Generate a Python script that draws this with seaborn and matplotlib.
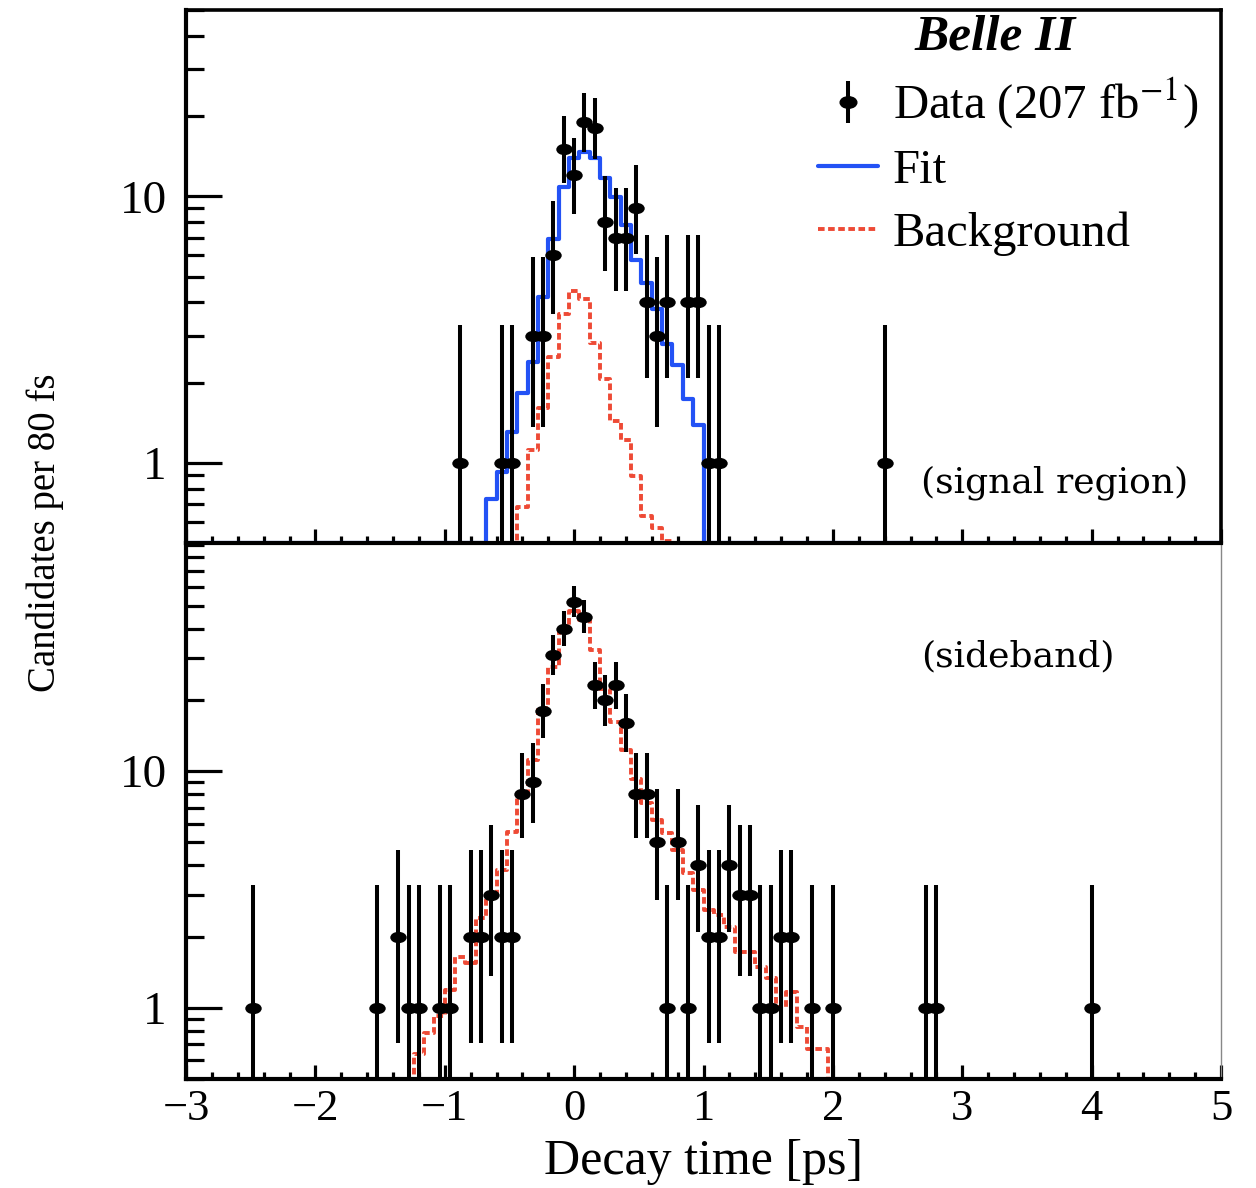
import math
import numpy as np
import matplotlib
matplotlib.use("Agg")
import matplotlib.pyplot as plt
import seaborn as sns
from matplotlib import ticker
from matplotlib.path import Path
from matplotlib.transforms import Affine2D
from matplotlib.lines import Line2D

##
# Data (decay time bin centres in ps, counts per 80 fs bin)
##
BIN = 0.08
edges = np.linspace(-3.0, 5.0, 101)
centers = edges[:-1] + BIN / 2

# signal region
sig_t = [-0.88, -0.56, -0.48, -0.32, -0.24, -0.16, -0.08, 0.00, 0.08, 0.16, 0.24,
         0.32, 0.40, 0.48, 0.56, 0.64, 0.72, 0.88, 0.96, 1.04, 1.12, 2.40]
sig_n = [1, 1, 1, 3, 3, 6, 15, 12, 19, 18, 8, 7, 7, 9, 4, 3, 4, 4, 4, 1, 1, 1]

sig_fit_start = -0.64
sig_fit = [0.73, 0.92, 1.31, 1.82, 2.39, 4.19, 6.92, 10.8, 13.9, 14.7, 13.9, 11.7,
           9.9, 7.83, 5.79, 4.72, 3.77, 2.80, 2.33, 1.74, 1.39]

sig_bkg_start = -0.40
sig_bkg = [0.68, 1.12, 1.60, 2.50, 3.63, 4.43, 4.13, 2.82, 2.06, 1.43, 1.22, 0.89,
           0.63, 0.57, 0.51]

# sideband
sb_t = [-2.48, -1.52, -1.36, -1.28, -1.20, -1.04, -0.96, -0.80, -0.72, -0.64, -0.56,
        -0.48, -0.40, -0.32, -0.24, -0.16, -0.08, 0.00, 0.08, 0.16, 0.24, 0.32, 0.40,
        0.48, 0.56, 0.64, 0.72, 0.80, 0.88, 0.96, 1.04, 1.12, 1.20, 1.28, 1.36, 1.44,
        1.52, 1.60, 1.68, 1.84, 2.00, 2.72, 2.80, 4.00]
sb_n = [1, 1, 2, 1, 1, 1, 1, 2, 2, 3, 2, 2, 8, 9, 18, 31, 40, 52, 45, 23, 20, 23, 16,
        8, 8, 5, 1, 5, 1, 4, 2, 2, 4, 3, 3, 1, 1, 2, 2, 1, 1, 1, 1, 1]

sb_bkg_start = -1.20
sb_bkg = [0.64, 0.78, 0.92, 1.19, 1.64, 1.55, 2.39, 2.94, 3.81, 5.54, 7.92, 11.1,
          18.4, 27.6, 39.5, 47.7, 43.6, 32.4, 22.3, 16.2, 12.3, 9.3, 7.3, 6.2, 5.45,
          4.63, 3.70, 3.14, 2.59, 2.46, 2.20, 1.72, 1.72, 1.49, 1.33, 1.01, 1.17, 0.83,
          0.67, 0.67]

YMIN = 0.5
BLUE = "#2352f5"
RED = "#ee4a35"
DASH = (0, (1.7, 0.9))


def fill_bins(start, vals):
    full = np.full(len(centers), YMIN)
    i0 = int(round((start - centers[0]) / BIN))
    full[i0:i0 + len(vals)] = vals
    return full


def step_hist(ax, start, vals, **kw):
    h = fill_bins(start, vals)
    sns.lineplot(x=edges, y=np.append(h, h[-1]), drawstyle="steps-post",
                 estimator=None, sort=False, ax=ax, **kw)


def pois_cdf(k, mu):
    return sum(math.exp(-mu + i * math.log(mu) - math.lgamma(i + 1)) for i in range(k + 1))


def garwood(n, a=0.158655):
    # upper edge
    lo, hi = float(n), n + 10 * math.sqrt(n + 1) + 10
    for _ in range(80):
        mid = (lo + hi) / 2
        if pois_cdf(n, mid) > a:
            lo = mid
        else:
            hi = mid
    up = (lo + hi) / 2
    if n == 0:
        return 0.0, up
    lo, hi = 1e-9, float(n)
    for _ in range(80):
        mid = (lo + hi) / 2
        if pois_cdf(n - 1, mid) > 1 - a:
            lo = mid
        else:
            hi = mid
    return (lo + hi) / 2, up


def draw_data(ax, t, n):
    n = np.array(n, dtype=float)
    lims = np.array([garwood(int(k)) for k in n])
    yerr = [n - lims[:, 0], lims[:, 1] - n]
    ax.errorbar(t, n, yerr=yerr, fmt="none", ecolor="black", elinewidth=2.9,
                capsize=0, zorder=4)
    sns.scatterplot(x=t, y=n, marker=ell, s=140, color="black", linewidth=0,
                    zorder=5, ax=ax)


ell = Path.unit_circle().transformed(Affine2D().scale(1.45, 1.0))

sns.set_style("ticks")
plt.rcParams["font.family"] = ["Liberation Serif", "DejaVu Serif"]
plt.rcParams["mathtext.fontset"] = "stix"
for key in ["text.color", "axes.labelcolor", "xtick.color", "ytick.color"]:
    plt.rcParams[key] = "black"

fig = plt.figure(figsize=(12.56, 11.88), dpi=100)
W, H = 1256, 1188
ax_top = fig.add_axes([186 / W, 1 - 543 / H, 1035 / W, 533 / H])
ax_bot = fig.add_axes([186 / W, 1 - 1079 / H, 1035 / W, 536 / H])

# signal region panel
step_hist(ax_top, sig_bkg_start, sig_bkg, color=RED, linewidth=2.8, linestyle=DASH)
step_hist(ax_top, sig_fit_start, sig_fit, color=BLUE, linewidth=3.0)
draw_data(ax_top, sig_t, sig_n)

# sideband panel
step_hist(ax_bot, sb_bkg_start, sb_bkg, color=RED, linewidth=2.8, linestyle=DASH)
draw_data(ax_bot, sb_t, sb_n)

for ax, ymax in [(ax_top, 50.0), (ax_bot, 92.0)]:
    ax.set_yscale("log")
    ax.set_xlim(-3, 5)
    ax.set_ylim(YMIN, ymax)
    ax.set_xlabel("")
    ax.set_ylabel("")
    ax.yaxis.set_major_locator(ticker.FixedLocator([1, 10]))
    ax.yaxis.set_major_formatter(ticker.FixedFormatter(["1", "10"]))
    ax.yaxis.set_minor_locator(ticker.LogLocator(base=10, subs=np.arange(2, 10)))
    ax.yaxis.set_minor_formatter(ticker.NullFormatter())
    ax.xaxis.set_major_locator(ticker.MultipleLocator(1))
    ax.xaxis.set_minor_locator(ticker.MultipleLocator(0.2))
    ax.tick_params(axis="y", which="major", direction="in", length=26, width=2.3,
                   labelsize=34, pad=14, right=False)
    ax.tick_params(axis="y", which="minor", direction="in", length=13, width=2.3,
                   right=False)
    ax.tick_params(axis="x", which="major", direction="in", length=10, width=2.3,
                   labelsize=32, pad=7, top=False)
    ax.tick_params(axis="x", which="minor", direction="in", length=5, width=2.3,
                   top=False)
    for side in ["left", "bottom"]:
        ax.spines[side].set_linewidth(3.0)
        ax.spines[side].set_color("black")

ax_top.tick_params(axis="x", which="both", labelbottom=False)
ax_top.spines["top"].set_linewidth(2.6)
ax_top.spines["right"].set_linewidth(2.6)
ax_top.spines["top"].set_color("black")
ax_top.spines["right"].set_color("black")
ax_bot.spines["top"].set_visible(False)
ax_bot.spines["right"].set_linewidth(1.0)
ax_bot.spines["right"].set_color("#888888")
ax_top.set_zorder(3)
ax_top.patch.set_alpha(0)

# legend and labels
fit_h = Line2D([], [], color=BLUE, linewidth=3.0)
bkg_h = Line2D([], [], color=RED, linewidth=2.8, linestyle=DASH)
data_h = (Line2D([], [], color="black", marker=ell, markersize=12, linestyle="none"),
          Line2D([], [], color="black", marker="|", markersize=30, markeredgewidth=2.9,
                 linestyle="none"))
leg = ax_top.legend([data_h, fit_h, bkg_h],
                    ["Data (207 fb$^{-1}$)", "Fit", "Background"],
                    loc="upper left", bbox_to_anchor=(0.6106, 0.876), frameon=False,
                    fontsize=35, handlelength=1.23, handletextpad=0.31,
                    labelspacing=0.37, borderpad=0, borderaxespad=0)

ax_top.text(0.7816, 0.9475, "Belle II", transform=ax_top.transAxes, ha="center",
            va="center", fontsize=37, fontweight="bold", style="italic")
ax_top.text(0.710, 0.1126, "(signal region)", transform=ax_top.transAxes, ha="left",
            va="center", fontsize=26, family="DejaVu Serif")
ax_bot.text(0.710, 0.789, "(sideband)", transform=ax_bot.transAxes, ha="left",
            va="center", fontsize=26, family="DejaVu Serif")

fig.text(45 / W, 1 - 533 / H, "Candidates per 80 fs", rotation=90, ha="center",
         va="center", fontsize=28)
fig.text(703 / W, 1 - 1162 / H, "Decay time [ps]", ha="center", va="center",
         fontsize=36)

fig.savefig("out.png", dpi=100)
